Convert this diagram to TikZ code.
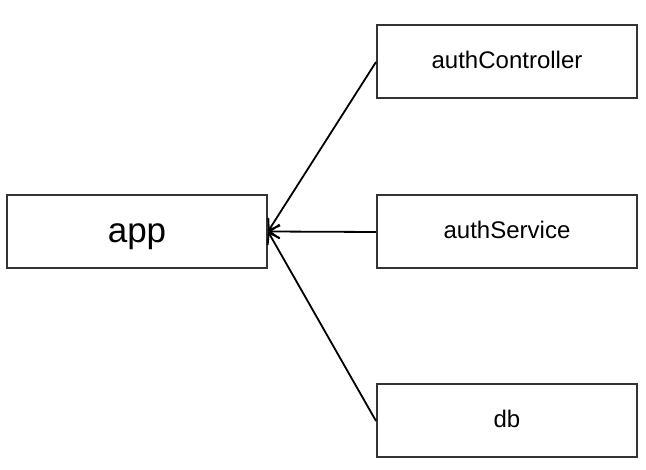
\documentclass[tikz,border=0pt]{standalone}
\usepackage{fontspec}
\setmainfont{Liberation Sans}
\usetikzlibrary{arrows.meta}
\definecolor{boxline}{HTML}{333333}
\begin{document}
\begin{tikzpicture}[x=1pt,y=-1pt,
  box/.style={draw=boxline,line width=2pt,minimum width=260pt,minimum height=73pt,inner sep=0pt,fill=white,
    font=\fontsize{24}{28}\selectfont,text height=13pt,text depth=0pt},
  bigbox/.style={box,font=\fontsize{35}{40}\selectfont,text height=23pt,text depth=0pt},
  conn/.style={draw=black,line width=1.8pt,-{Straight Barb[length=10pt,width=14pt,line width=1.8pt]}}]
\useasboundingbox (0,0) rectangle (646,470);
\node[bigbox] (app) at (137,231.5) {app};
\node[box] (ctrl) at (507,62) {authController};
\node[box] (svc) at (507,232) {authService};
\node[box] (db) at (507,421) {db};
\draw[conn] (ctrl.west) -- (app.east);
\draw[conn] (svc.west) -- (app.east);
\draw[conn] (db.west) -- (app.east);
\end{tikzpicture}
\end{document}
